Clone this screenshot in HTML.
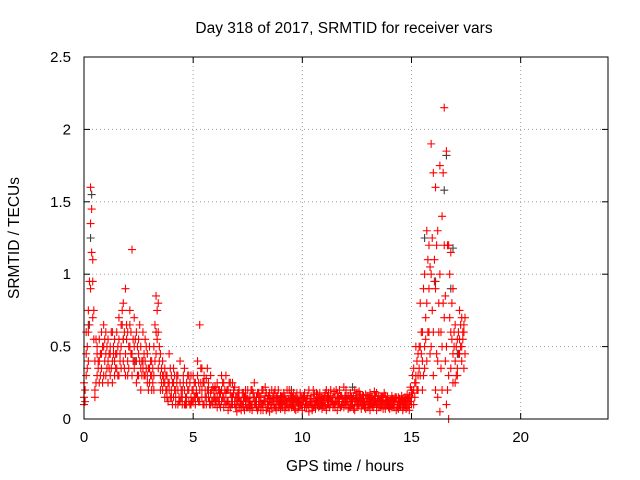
<!DOCTYPE html>
<html><head><meta charset="utf-8"><style>
body{margin:0;background:#fff;}
svg{display:block;font-family:"Liberation Sans",sans-serif;}
</style></head><body>
<svg id="chart" width="640" height="480">
<rect width="640" height="480" fill="#fff"/>
<text x="344" y="33" font-size="15.5" text-anchor="middle">Day 318 of 2017, SRMTID for receiver vars</text>
<text transform="translate(19,238) rotate(-90)" font-size="15.5" text-anchor="middle">SRMTID / TECUs</text>
<text x="345" y="471" font-size="15.5" text-anchor="middle">GPS time / hours</text>
<g id="grid"></g><g id="ticks"></g><g id="marks"></g>
<rect x="84" y="57" width="524" height="362" fill="none" stroke="#000" stroke-width="1"/>
</svg>
<script>
const xTicks=[0,5,10,15,20];
const yTicks=[0,0.5,1,1.5,2,2.5];
const yTickLabels=["0","0.5","1","1.5","2","2.5"];
const hourStarts=[0,1,2,3,4,5,6,7,8,9,10,11,12,13,14,15,16,17];
const stepOffsets=[0,0.1,0.2,0.3,0.4,0.5,0.6,0.7,0.8,0.9];
const halfStep=0.05;
const s1=[
.15,.45,.75,1.6,1.1,.4,.3,.55,.35,.5,
.45,.55,.3,.6,.4,.35,.7,.5,.8,.45,
.6,.75,1.17,.5,.4,.55,.35,.6,.3,.45,
.25,.4,.5,.85,.6,.3,.2,.35,.15,.25,
.3,.15,.2,.1,.25,.15,.35,.1,.2,.15,
.2,.1,.3,.65,.15,.25,.1,.2,.3,.12,
.15,.25,.1,.2,.08,.3,.12,.18,.1,.22,
.1,.15,.06,.12,.2,.08,.15,.1,.25,.12,
.08,.15,.2,.1,.12,.18,.07,.14,.1,.2,
.12,.08,.16,.1,.2,.13,.09,.15,.11,.18,
.1,.15,.08,.2,.12,.14,.1,.17,.09,.15,
.13,.2,.1,.16,.12,.08,.18,.14,.1,.22,
.15,.1,.18,.12,.2,.09,.15,.13,.1,.17,
.12,.18,.09,.14,.1,.16,.08,.13,.11,.15,
.1,.13,.08,.15,.12,.09,.14,.1,.12,.16,
.2,.35,.5,.3,.8,.4,1.0,1.3,.6,1.9,
1.7,.9,1.3,1.75,.5,2.15,1.85,1.2,.6,.9,
.65,.55,.75,.7,.6];
const s2=[
.1,.3,.6,1.35,.95,.2,.5,.4,.6,.3,
.3,.4,.5,.25,.55,.6,.3,.65,.55,.9,
.4,.5,.3,.7,.25,.45,.5,.4,.55,.25,
.5,.2,.3,.6,.8,.45,.3,.15,.3,.2,
.15,.25,.1,.3,.12,.2,.1,.25,.12,.3,
.12,.25,.15,.2,.35,.1,.28,.15,.1,.22,
.1,.15,.2,.12,.25,.1,.2,.08,.25,.12,
.15,.08,.12,.18,.1,.14,.07,.2,.1,.15,
.12,.06,.1,.16,.08,.12,.2,.1,.06,.13,
.07,.15,.1,.12,.08,.18,.12,.06,.14,.1,
.14,.08,.12,.1,.16,.08,.13,.1,.15,.07,
.09,.14,.18,.1,.08,.15,.12,.2,.09,.12,
.1,.16,.08,.14,.12,.18,.1,.07,.16,.1,
.08,.12,.15,.1,.18,.08,.12,.15,.07,.1,
.12,.08,.1,.14,.07,.12,.1,.15,.08,.1,
.1,.2,.25,.45,.3,.6,.5,.8,1.2,1.0,
.6,1.6,.4,1.0,1.4,1.2,.5,.3,1.15,.45,
.4,.35,.45,.5,.65];
const s3=[
.25,.6,.4,.9,.7,.15,.45,.25,.45,.65,
.6,.25,.45,.4,.3,.45,.55,.35,.4,.3,
.3,.65,.45,.35,.6,.3,.2,.35,.4,.3,
.35,.3,.2,.45,.35,.2,.4,.25,.2,.45,
.2,.35,.15,.2,.4,.1,.2,.15,.3,.1,
.3,.15,.4,.12,.2,.3,.15,.25,.18,.1,
.22,.08,.15,.3,.15,.18,.06,.25,.15,.1,
.05,.2,.1,.08,.15,.2,.12,.06,.15,.08,
.18,.1,.06,.22,.14,.05,.12,.18,.15,.08,
.16,.11,.06,.2,.12,.08,.18,.13,.07,.12,
.06,.18,.14,.05,.1,.2,.07,.12,.18,.11,
.16,.06,.13,.2,.15,.11,.06,.1,.16,.08,
.2,.07,.12,.1,.06,.14,.19,.1,.14,.07,
.16,.06,.11,.19,.06,.12,.15,.07,.16,.12,
.07,.16,.12,.06,.15,.11,.06,.12,.17,.06,
.15,.1,.3,.2,.5,.2,.35,.4,.9,.5,
.3,.2,.15,.05,.2,.7,.1,.0,.35,.25,
.25,.3,.55,.4,.35];
const s4=[
.2,.5,.95,1.45,.75,.55,.35,.45,.5,.4,
.5,.35,.6,.45,.35,.5,.4,.75,.6,.55,
.5,.6,.55,.4,.5,.65,.4,.3,.5,.35,
.3,.35,.65,.75,.5,.25,.3,.2,.25,.15,
.25,.2,.3,.15,.2,.25,.15,.3,.1,.2,
.15,.2,.25,.35,.25,.15,.2,.12,.2,.15,
.2,.12,.18,.15,.2,.12,.25,.1,.18,.15,
.12,.1,.18,.15,.08,.12,.2,.15,.1,.18,
.15,.1,.13,.18,.1,.14,.12,.08,.16,.12,
.15,.12,.08,.14,.16,.1,.14,.12,.09,.15,
.12,.1,.16,.12,.09,.17,.12,.14,.13,.1,
.18,.1,.14,.12,.19,.12,.1,.16,.14,.12,
.12,.14,.1,.16,.13,.12,.17,.1,.12,.14,
.14,.1,.13,.12,.14,.1,.15,.1,.13,.12,
.13,.1,.12,.1,.14,.13,.08,.13,.1,.22,
.3,.25,.4,.5,.6,.9,.7,1.1,1.05,1.25,
.95,1.2,.8,.6,1.7,.85,1.2,.7,.8,.5,
.5,.6,.65,.55,.7];
const s5=[
.12,.35,.65,1.15,.55,.25,.4,.3,.25,.55,
.35,.45,.35,.5,.45,.3,.45,.65,.35,.65,
.35,.45,.4,.55,.3,.4,.3,.45,.35,.2,
.4,.25,.4,.55,.4,.35,.25,.3,.12,.35,
.1,.3,.25,.12,.15,.3,.1,.2,.25,.12,
.25,.18,.12,.25,.1,.2,.35,.1,.12,.2,
.12,.2,.08,.25,.12,.2,.1,.15,.2,.08,
.18,.12,.1,.06,.14,.1,.1,.18,.12,.06,
.1,.2,.12,.06,.16,.1,.15,.2,.12,.1,
.1,.18,.13,.08,.1,.15,.07,.18,.12,.1,
.16,.12,.1,.14,.06,.1,.18,.08,.1,.14,
.1,.16,.08,.12,.1,.2,.15,.08,.12,.16,
.14,.08,.15,.07,.16,.1,.12,.16,.08,.12,
.1,.15,.08,.16,.1,.13,.1,.18,.1,.08,
.09,.14,.15,.08,.1,.16,.12,.07,.14,.12,
.18,.15,.2,.35,.45,.3,.55,.6,.45,.75,
1.1,.45,.6,.35,.8,.4,.2,1.0,.55,.6,
.3,.45,.5,.6,.45];
const grayT=[0.2,0.3,0.35,1.8,2.3,3.3,9.5,12.3,15.6,16.1,16.5,16.6,16.8,16.9,17.1];
const grayV=[0.65,1.25,1.55,0.55,0.4,0.6,0.2,0.22,1.25,0.95,1.58,1.82,0.9,1.18,0.45];

const NS="http://www.w3.org/2000/svg";
const X0=84,X1=608,Y0=419,Y1=57;
const xs=v=>X0+v/24*(X1-X0);
const ys=v=>Y0-v/2.5*(Y0-Y1);
function mk(tag,attrs,parent){const e=document.createElementNS(NS,tag);for(const k in attrs)e.setAttribute(k,attrs[k]);parent.appendChild(e);return e;}
const grid=document.getElementById('grid'),ticks=document.getElementById('ticks'),marks=document.getElementById('marks');
xTicks.forEach((v,i)=>{const x=xs(v);
 if(i>0){const g=mk('line',{x1:x,x2:x,y1:Y0,y2:Y1,stroke:'#a0a0a0','stroke-dasharray':'1,3'},grid);
 
 }
 mk('line',{x1:x,x2:x,y1:Y0,y2:Y0-6,stroke:'#000'},ticks);
 mk('line',{x1:x,x2:x,y1:Y1,y2:Y1+6,stroke:'#000'},ticks);
 const t=mk('text',{x:x,y:Y0+23,'font-size':15,'text-anchor':'middle'},ticks);t.textContent=String(v);
 
 
});
yTicks.forEach((v,i)=>{const y=ys(v);
 if(i>0&&i<yTicks.length-1){const g=mk('line',{x1:X0,x2:X1,y1:y,y2:y,stroke:'#a0a0a0','stroke-dasharray':'1,3'},grid);
 
 }
 mk('line',{x1:X0,x2:X0+6,y1:y,y2:y,stroke:'#000'},ticks);
 mk('line',{x1:X1,x2:X1-6,y1:y,y2:y,stroke:'#000'},ticks);
 const t=mk('text',{x:X0-13,y:y+5,'font-size':15,'text-anchor':'end'},ticks);t.textContent=yTickLabels[i];
 
 
});
function plus(t,v,color,name){const x=xs(t),y=ys(v);
 const p=mk('path',{d:`M${x-4},${y}H${x+4}M${x},${y-4}V${y+4}`,stroke:color,'stroke-width':1.1,fill:'none'},marks);
 
 }
grayT.forEach((t,i)=>plus(t,grayV[i],'#404040','gray-point'));
const times=[];hourStarts.forEach(h=>stepOffsets.forEach(o=>times.push(h+o)));
[s1,s2,s3].forEach(s=>s.forEach((v,i)=>plus(times[i],v,'#ff0000','red-point')));
[s4,s5].forEach(s=>s.forEach((v,i)=>plus(times[i]+halfStep,v,'#ff0000','red-point')));
</script>
</body></html>
